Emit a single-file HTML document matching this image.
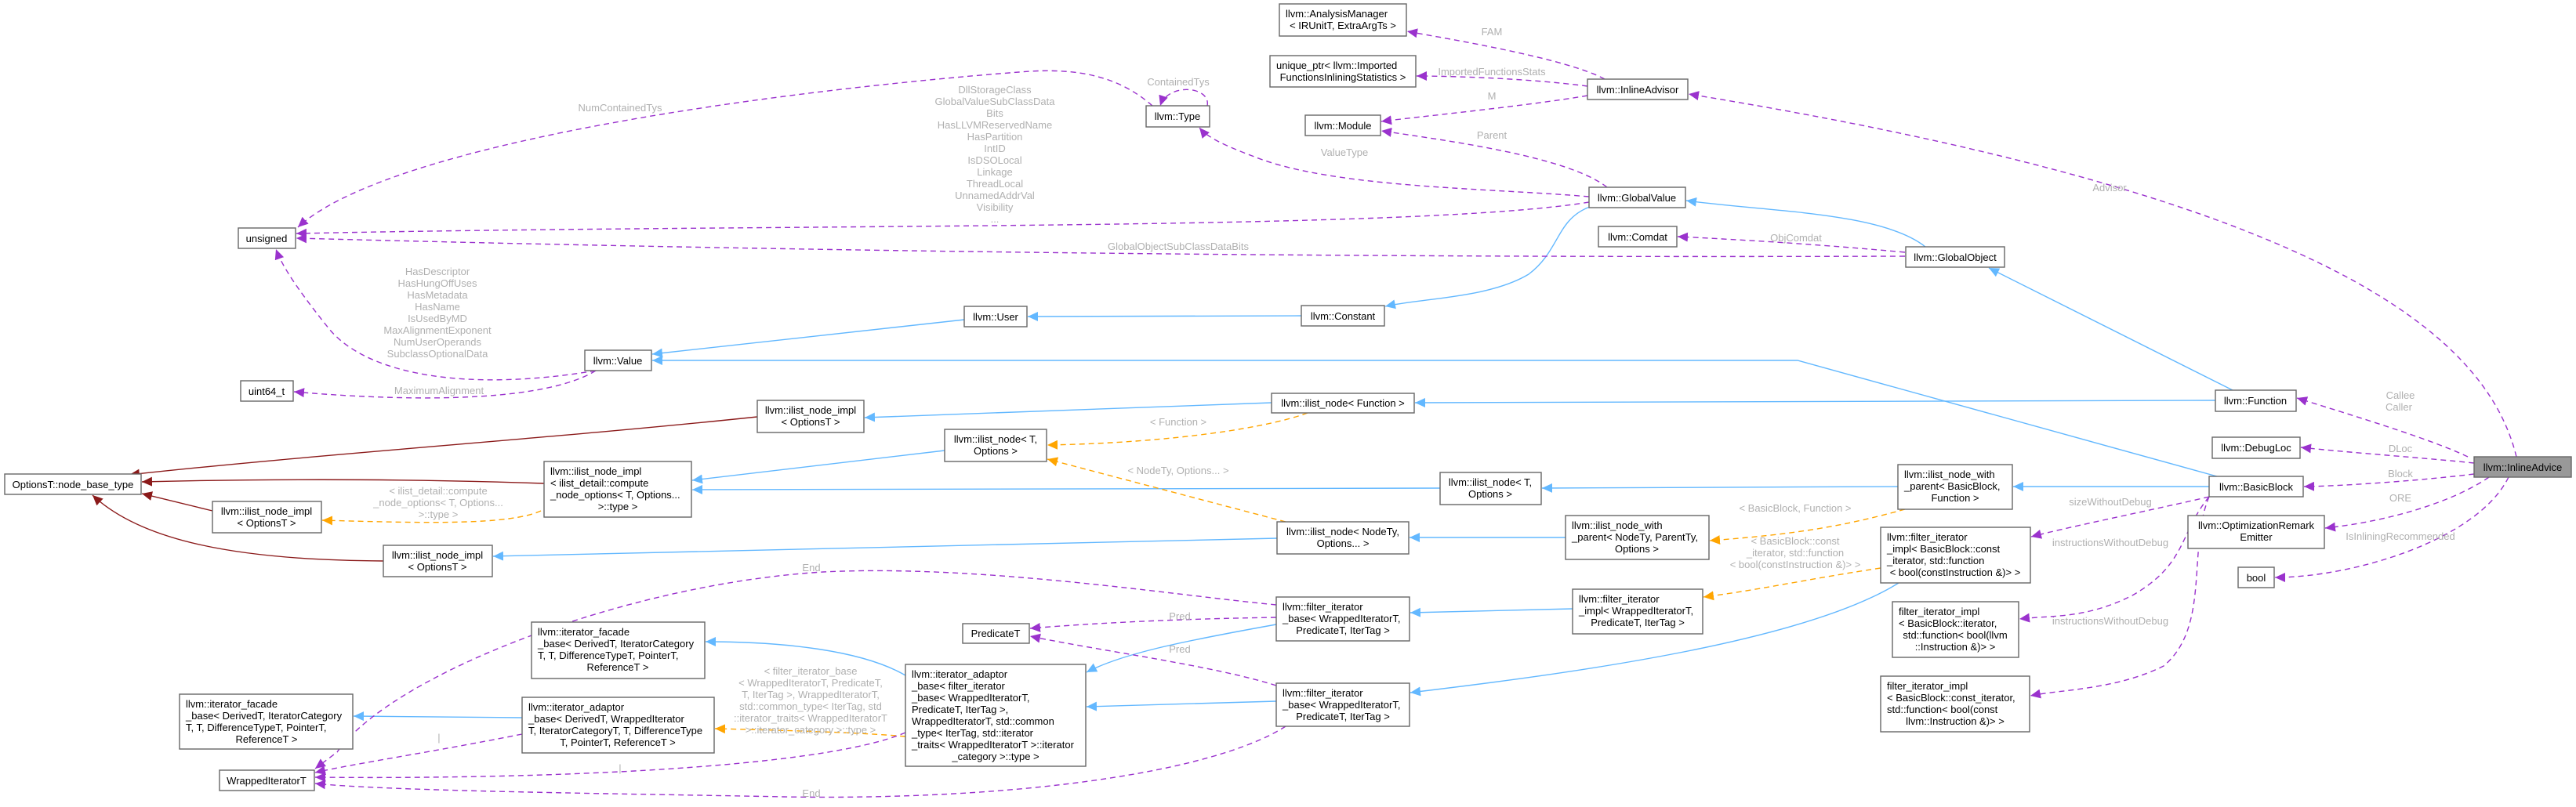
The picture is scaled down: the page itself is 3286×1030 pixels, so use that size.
<!DOCTYPE html>
<html><head><meta charset="utf-8"><style>
html,body{margin:0;padding:0;background:#fff;}
svg{display:block;}
text{font-family:"Liberation Sans",Arial,sans-serif;font-size:13px;}
.n rect{fill:#fff;stroke:#666;stroke-width:1.4;}
.n text{fill:#000;}
.l{fill:#b0b0b0;text-anchor:middle;}
.b{fill:none;stroke:#63b8ff;stroke-width:1.4;}
.r{fill:none;stroke:#8b1a1a;stroke-width:1.4;}
.o{fill:none;stroke:#ffa500;stroke-width:1.4;stroke-dasharray:7,5;}
.p{fill:none;stroke:#9a32cd;stroke-width:1.4;stroke-dasharray:7,5;}
</style></head><body>
<svg width="3286" height="1030" viewBox="0 0 3286 1030" xmlns="http://www.w3.org/2000/svg">
<defs>
<marker id="mb" markerUnits="userSpaceOnUse" markerWidth="14" markerHeight="12" refX="13" refY="6" orient="auto"><path d="M0,0 L13,6 L0,12 z" fill="#63b8ff"/></marker>
<marker id="mr" markerUnits="userSpaceOnUse" markerWidth="14" markerHeight="12" refX="13" refY="6" orient="auto"><path d="M0,0 L13,6 L0,12 z" fill="#8b1a1a"/></marker>
<marker id="mo" markerUnits="userSpaceOnUse" markerWidth="14" markerHeight="12" refX="13" refY="6" orient="auto"><path d="M0,0 L13,6 L0,12 z" fill="#ffa500"/></marker>
<marker id="mp" markerUnits="userSpaceOnUse" markerWidth="14" markerHeight="12" refX="13" refY="6" orient="auto"><path d="M0,0 L13,6 L0,12 z" fill="#9a32cd"/></marker>
</defs>

<!-- blue edges -->
<path class="b" marker-end="url(#mb)" d="M2826,511 L1805,514"/>
<path class="b" marker-end="url(#mb)" d="M2848,498 L2537,342"/>
<path class="b" marker-end="url(#mb)" d="M2456,315 C2400,270 2250,270 2151,256"/>
<path class="b" marker-end="url(#mb)" d="M2028,264 C1985,280 1990,320 1950,350 C1900,380 1820,380 1767,391"/>
<path class="b" marker-end="url(#mb)" d="M1660,403 L1311,404"/>
<path class="b" marker-end="url(#mb)" d="M1230,408 L832,452"/>
<path class="b" marker-end="url(#mb)" d="M2828,608 L2293,460 L832,460"/>
<path class="b" marker-end="url(#mb)" d="M1622,514 L1103,533"/>
<path class="b" marker-end="url(#mb)" d="M1205,575 L883,613"/>
<path class="b" marker-end="url(#mb)" d="M1837,623 L883,625"/>
<path class="b" marker-end="url(#mb)" d="M2421,621 L1967,623"/>
<path class="b" marker-end="url(#mb)" d="M2818,621 L2568,621"/>
<path class="b" marker-end="url(#mb)" d="M1997,686 L1798,686"/>
<path class="b" marker-end="url(#mb)" d="M1629,687 L629,710"/>
<path class="b" marker-end="url(#mb)" d="M2006,777 L1799,782"/>
<path class="b" marker-end="url(#mb)" d="M1628,797 C1500,820 1430,835 1386,858"/>
<path class="b" marker-end="url(#mb)" d="M2422,744 C2300,820 2000,860 1799,884"/>
<path class="b" marker-end="url(#mb)" d="M1628,895 L1386,902"/>
<path class="b" marker-end="url(#mb)" d="M1155,862 C1100,830 1000,819 900,819"/>
<path class="b" marker-end="url(#mb)" d="M666,916 L451,914"/>
<!-- dark red -->
<path class="r" marker-end="url(#mr)" d="M966,532 C700,560 400,580 165,606"/>
<path class="r" marker-end="url(#mr)" d="M694,617 C500,610 300,612 181,615"/>
<path class="r" marker-end="url(#mr)" d="M271,652 L181,630"/>
<path class="r" marker-end="url(#mr)" d="M489,716 C300,715 180,690 118,632"/>
<!-- orange -->
<path class="o" marker-end="url(#mo)" d="M1668,527 C1620,545 1500,565 1336,568"/>
<path class="o" marker-end="url(#mo)" d="M1640,666 L1336,586"/>
<path class="o" marker-end="url(#mo)" d="M690,652 C650,670 550,668 411,664"/>
<path class="o" marker-end="url(#mo)" d="M2430,650 C2350,672 2290,682 2181,690"/>
<path class="o" marker-end="url(#mo)" d="M2399,725 C2300,740 2250,752 2173,762"/>
<path class="o" marker-end="url(#mo)" d="M1155,940 C1100,935 1000,932 912,930"/>
<!-- purple -->
<path class="p" marker-end="url(#mp)" d="M3148,583 C3100,560 3000,530 2930,508"/>
<path class="p" marker-end="url(#mp)" d="M3156,591 C3100,585 3000,578 2935,571"/>
<path class="p" marker-end="url(#mp)" d="M3156,605 C3100,612 3000,620 2939,621"/>
<path class="p" marker-end="url(#mp)" d="M3175,609 C3130,640 3050,665 2966,674"/>
<path class="p" marker-end="url(#mp)" d="M3200,609 C3160,690 3000,737 2902,737"/>
<path class="p" marker-end="url(#mp)" d="M3210,583 C3170,420 2950,250 2154,120"/>
<path class="p" marker-end="url(#mp)" d="M2818,634 C2750,650 2650,670 2591,685"/>
<path class="p" marker-end="url(#mp)" d="M2818,634 C2780,680 2790,720 2720,760 C2660,790 2620,785 2576,790"/>
<path class="p" marker-end="url(#mp)" d="M2818,634 C2790,700 2820,800 2760,850 C2700,880 2630,880 2590,888"/>
<path class="p" marker-end="url(#mp)" d="M2047,101 C2000,75 1850,50 1795,40"/>
<path class="p" marker-end="url(#mp)" d="M2025,110 C1950,100 1850,97 1807,97"/>
<path class="p" marker-end="url(#mp)" d="M2025,122 C1950,135 1800,150 1762,155"/>
<path class="p" marker-end="url(#mp)" d="M2050,239 C2000,200 1850,180 1762,167"/>
<path class="p" marker-end="url(#mp)" d="M2027,251 C1900,240 1700,240 1600,200 C1560,185 1540,175 1530,163"/>
<path class="p" marker-end="url(#mp)" d="M2027,258 C1800,295 1000,285 378,298"/>
<path class="p" marker-end="url(#mp)" d="M2430,327 C1500,330 800,315 378,304"/>
<path class="p" marker-end="url(#mp)" d="M2430,322 C2300,310 2200,305 2140,302"/>
<path class="p" marker-end="url(#mp)" d="M1540,135 C1545,110 1490,105 1480,135"/>
<path class="p" marker-end="url(#mp)" d="M1470,135 C1430,100 1380,85 1300,92 C1000,115 500,180 380,290"/>
<path class="p" marker-end="url(#mp)" d="M760,473 C600,500 470,480 420,420 C380,370 360,340 352,318"/>
<path class="p" marker-end="url(#mp)" d="M760,473 C700,510 550,515 375,500"/>
<path class="p" marker-end="url(#mp)" d="M1628,772 C1500,760 1250,720 1050,730 C800,745 500,860 430,960 L402,981"/>
<path class="p" marker-end="url(#mp)" d="M1628,788 C1500,790 1400,795 1314,802"/>
<path class="p" marker-end="url(#mp)" d="M1628,875 C1550,850 1400,830 1314,812"/>
<path class="p" marker-end="url(#mp)" d="M1640,927 C1550,985 1300,1022 1000,1017 C800,1013 500,1010 402,1000"/>
<path class="p" marker-end="url(#mp)" d="M1155,935 C1050,980 700,995 402,992"/>
<path class="p" marker-end="url(#mp)" d="M666,937 C550,960 450,975 402,986"/>

<!-- labels -->
<text class="l" x="3062" y="509">Callee</text><text class="l" x="3060" y="524">Caller</text>
<text class="l" x="3062" y="577">DLoc</text>
<text class="l" x="3062" y="609">Block</text>
<text class="l" x="3062" y="640">ORE</text>
<text class="l" x="3062" y="689">IsInliningRecommended</text>
<text class="l" x="2692" y="645">sizeWithoutDebug</text>
<text class="l" x="2692" y="697">instructionsWithoutDebug</text>
<text class="l" x="2692" y="797">instructionsWithoutDebug</text>
<text class="l" x="2290" y="653">&lt; BasicBlock, Function &gt;</text>
<text class="l" x="2290" y="695">&lt; BasicBlock::const</text>
<text class="l" x="2290" y="710">_iterator, std::function</text>
<text class="l" x="2290" y="725">&lt; bool(constInstruction &amp;)&gt; &gt;</text>
<text class="l" x="2691" y="244">Advisor</text>
<text class="l" x="1903" y="45">FAM</text>
<text class="l" x="1903" y="96">ImportedFunctionsStats</text>
<text class="l" x="1903" y="127">M</text>
<text class="l" x="1903" y="177">Parent</text>
<text class="l" x="1715" y="199">ValueType</text>
<text class="l" x="1503" y="109">ContainedTys</text>
<text class="l" x="2291" y="308">ObjComdat</text>
<text class="l" x="1503" y="319">GlobalObjectSubClassDataBits</text>
<text class="l" x="791" y="142">NumContainedTys</text>
<text class="l" x="1269" y="119">DllStorageClass</text>
<text class="l" x="1269" y="134">GlobalValueSubClassData</text>
<text class="l" x="1269" y="149">Bits</text>
<text class="l" x="1269" y="164">HasLLVMReservedName</text>
<text class="l" x="1269" y="179">HasPartition</text>
<text class="l" x="1269" y="194">IntID</text>
<text class="l" x="1269" y="209">IsDSOLocal</text>
<text class="l" x="1269" y="224">Linkage</text>
<text class="l" x="1269" y="239">ThreadLocal</text>
<text class="l" x="1269" y="254">UnnamedAddrVal</text>
<text class="l" x="1269" y="269">Visibility</text>
<text class="l" x="1269" y="284">...</text>
<text class="l" x="558" y="351">HasDescriptor</text>
<text class="l" x="558" y="366">HasHungOffUses</text>
<text class="l" x="558" y="381">HasMetadata</text>
<text class="l" x="558" y="396">HasName</text>
<text class="l" x="558" y="411">IsUsedByMD</text>
<text class="l" x="558" y="426">MaxAlignmentExponent</text>
<text class="l" x="558" y="441">NumUserOperands</text>
<text class="l" x="558" y="456">SubclassOptionalData</text>
<text class="l" x="560" y="503">MaximumAlignment</text>
<text class="l" x="1503" y="543">&lt; Function &gt;</text>
<text class="l" x="1503" y="605">&lt; NodeTy, Options... &gt;</text>
<text class="l" x="559" y="631">&lt; ilist_detail::compute</text>
<text class="l" x="559" y="646">_node_options&lt; T, Options...</text>
<text class="l" x="559" y="661">&gt;::type &gt;</text>
<text class="l" x="1035" y="729">End</text>
<text class="l" x="1505" y="791">Pred</text>
<text class="l" x="1505" y="833">Pred</text>
<text class="l" x="1035" y="1017">End</text>
<text class="l" x="1034" y="861">&lt; filter_iterator_base</text>
<text class="l" x="1034" y="876">&lt; WrappedIteratorT, PredicateT,</text>
<text class="l" x="1034" y="891">T, IterTag &gt;, WrappedIteratorT,</text>
<text class="l" x="1034" y="906">std::common_type&lt; IterTag, std</text>
<text class="l" x="1034" y="921">::iterator_traits&lt; WrappedIteratorT</text>
<text class="l" x="1034" y="936">&gt;::iterator_category &gt;::type &gt;</text>
<text class="l" x="560" y="946">|</text>
<text class="l" x="791" y="985">|</text>

<!-- nodes -->
<g class="n">
<rect x="3156" y="583" width="124" height="26" style="fill:#999"/><text x="3218" y="601" text-anchor="middle">llvm::InlineAdvice</text>
<rect x="2826" y="498" width="103" height="27"/><text x="2877" y="516" text-anchor="middle">llvm::Function</text>
<rect x="2822" y="558" width="112" height="27"/><text x="2878" y="576" text-anchor="middle">llvm::DebugLoc</text>
<rect x="2818" y="608" width="120" height="26"/><text x="2878" y="626" text-anchor="middle">llvm::BasicBlock</text>
<rect x="2791" y="658" width="174" height="42"/><text x="2878" y="675" text-anchor="middle">llvm::OptimizationRemark</text><text x="2878" y="690" text-anchor="middle">Emitter</text>
<rect x="2855" y="724" width="46" height="26"/><text x="2878" y="742" text-anchor="middle">bool</text>
<rect x="2025" y="101" width="128" height="26"/><text x="2089" y="119" text-anchor="middle">llvm::InlineAdvisor</text>
<rect x="1632" y="5" width="162" height="41"/><text x="1640" y="22">llvm::AnalysisManager</text><text x="1713" y="37" text-anchor="middle">&lt; IRUnitT, ExtraArgTs &gt;</text>
<rect x="1620" y="71" width="186" height="40"/><text x="1628" y="88">unique_ptr&lt; llvm::Imported</text><text x="1713" y="103" text-anchor="middle">FunctionsInliningStatistics &gt;</text>
<rect x="1665" y="147" width="96" height="26"/><text x="1713" y="165" text-anchor="middle">llvm::Module</text>
<rect x="1462" y="135" width="81" height="27"/><text x="1502" y="153" text-anchor="middle">llvm::Type</text>
<rect x="2027" y="239" width="123" height="26"/><text x="2088" y="257" text-anchor="middle">llvm::GlobalValue</text>
<rect x="2039" y="289" width="100" height="26"/><text x="2089" y="307" text-anchor="middle">llvm::Comdat</text>
<rect x="2431" y="315" width="126" height="26"/><text x="2494" y="333" text-anchor="middle">llvm::GlobalObject</text>
<rect x="1660" y="390" width="106" height="26"/><text x="1713" y="408" text-anchor="middle">llvm::Constant</text>
<rect x="1230" y="391" width="80" height="26"/><text x="1270" y="409" text-anchor="middle">llvm::User</text>
<rect x="746" y="447" width="85" height="26"/><text x="788" y="465" text-anchor="middle">llvm::Value</text>
<rect x="304" y="291" width="73" height="26"/><text x="340" y="309" text-anchor="middle">unsigned</text>
<rect x="307" y="486" width="67" height="26"/><text x="340" y="504" text-anchor="middle">uint64_t</text>
<rect x="966" y="511" width="136" height="41"/><text x="1034" y="528" text-anchor="middle">llvm::ilist_node_impl</text><text x="1034" y="543" text-anchor="middle">&lt; OptionsT &gt;</text>
<rect x="6" y="605" width="174" height="26"/><text x="93" y="623" text-anchor="middle">OptionsT::node_base_type</text>
<rect x="694" y="589" width="188" height="71"/><text x="702" y="606">llvm::ilist_node_impl</text><text x="702" y="621">&lt; ilist_detail::compute</text><text x="702" y="636">_node_options&lt; T, Options...</text><text x="788" y="651" text-anchor="middle">&gt;::type &gt;</text>
<rect x="271" y="640" width="139" height="40"/><text x="340" y="657" text-anchor="middle">llvm::ilist_node_impl</text><text x="340" y="672" text-anchor="middle">&lt; OptionsT &gt;</text>
<rect x="489" y="696" width="139" height="40"/><text x="558" y="713" text-anchor="middle">llvm::ilist_node_impl</text><text x="558" y="728" text-anchor="middle">&lt; OptionsT &gt;</text>
<rect x="1622" y="502" width="182" height="25"/><text x="1713" y="519" text-anchor="middle">llvm::ilist_node&lt; Function &gt;</text>
<rect x="1205" y="548" width="130" height="41"/><text x="1270" y="565" text-anchor="middle">llvm::ilist_node&lt; T,</text><text x="1270" y="580" text-anchor="middle">Options &gt;</text>
<rect x="1837" y="603" width="129" height="41"/><text x="1901" y="620" text-anchor="middle">llvm::ilist_node&lt; T,</text><text x="1901" y="635" text-anchor="middle">Options &gt;</text>
<rect x="1629" y="666" width="168" height="41"/><text x="1713" y="683" text-anchor="middle">llvm::ilist_node&lt; NodeTy,</text><text x="1713" y="698" text-anchor="middle">Options... &gt;</text>
<rect x="1997" y="658" width="183" height="56"/><text x="2005" y="675">llvm::ilist_node_with</text><text x="2005" y="690">_parent&lt; NodeTy, ParentTy,</text><text x="2088" y="705" text-anchor="middle">Options &gt;</text>
<rect x="2421" y="593" width="146" height="57"/><text x="2429" y="610">llvm::ilist_node_with</text><text x="2429" y="625">_parent&lt; BasicBlock,</text><text x="2494" y="640" text-anchor="middle">Function &gt;</text>
<rect x="2399" y="673" width="191" height="71"/><text x="2407" y="690">llvm::filter_iterator</text><text x="2407" y="705">_impl&lt; BasicBlock::const</text><text x="2407" y="720">_iterator, std::function</text><text x="2494" y="735" text-anchor="middle">&lt; bool(constInstruction &amp;)&gt; &gt;</text>
<rect x="2414" y="768" width="161" height="71"/><text x="2422" y="785">filter_iterator_impl</text><text x="2422" y="800">&lt; BasicBlock::iterator,</text><text x="2494" y="815" text-anchor="middle">std::function&lt; bool(llvm</text><text x="2494" y="830" text-anchor="middle">::Instruction &amp;)&gt; &gt;</text>
<rect x="2399" y="863" width="190" height="71"/><text x="2407" y="880">filter_iterator_impl</text><text x="2407" y="895">&lt; BasicBlock::const_iterator,</text><text x="2407" y="910">std::function&lt; bool(const</text><text x="2494" y="925" text-anchor="middle">llvm::Instruction &amp;)&gt; &gt;</text>
<rect x="2006" y="752" width="166" height="57"/><text x="2014" y="769">llvm::filter_iterator</text><text x="2014" y="784">_impl&lt; WrappedIteratorT,</text><text x="2089" y="799" text-anchor="middle">PredicateT, IterTag &gt;</text>
<rect x="1628" y="762" width="170" height="56"/><text x="1636" y="779">llvm::filter_iterator</text><text x="1636" y="794">_base&lt; WrappedIteratorT,</text><text x="1713" y="809" text-anchor="middle">PredicateT, IterTag &gt;</text>
<rect x="1628" y="872" width="170" height="55"/><text x="1636" y="889">llvm::filter_iterator</text><text x="1636" y="904">_base&lt; WrappedIteratorT,</text><text x="1713" y="919" text-anchor="middle">PredicateT, IterTag &gt;</text>
<rect x="1228" y="796" width="85" height="25"/><text x="1270" y="813" text-anchor="middle">PredicateT</text>
<rect x="1155" y="848" width="230" height="130"/><text x="1163" y="865">llvm::iterator_adaptor</text><text x="1163" y="880">_base&lt; filter_iterator</text><text x="1163" y="895">_base&lt; WrappedIteratorT,</text><text x="1163" y="910"> PredicateT, IterTag &gt;,</text><text x="1163" y="925"> WrappedIteratorT, std::common</text><text x="1163" y="940">_type&lt; IterTag, std::iterator</text><text x="1163" y="955">_traits&lt; WrappedIteratorT &gt;::iterator</text><text x="1270" y="970" text-anchor="middle">_category &gt;::type &gt;</text>
<rect x="678" y="794" width="221" height="72"/><text x="686" y="811">llvm::iterator_facade</text><text x="686" y="826">_base&lt; DerivedT, IteratorCategory</text><text x="686" y="841">T, T, DifferenceTypeT, PointerT,</text><text x="788" y="856" text-anchor="middle">ReferenceT &gt;</text>
<rect x="229" y="886" width="221" height="70"/><text x="237" y="903">llvm::iterator_facade</text><text x="237" y="918">_base&lt; DerivedT, IteratorCategory</text><text x="237" y="933">T, T, DifferenceTypeT, PointerT,</text><text x="340" y="948" text-anchor="middle">ReferenceT &gt;</text>
<rect x="666" y="890" width="245" height="71"/><text x="674" y="907">llvm::iterator_adaptor</text><text x="674" y="922">_base&lt; DerivedT, WrappedIterator</text><text x="674" y="937">T, IteratorCategoryT, T, DifferenceType</text><text x="788" y="952" text-anchor="middle">T, PointerT, ReferenceT &gt;</text>
<rect x="280" y="983" width="121" height="26"/><text x="340" y="1001" text-anchor="middle">WrappedIteratorT</text>
</g>
</svg>
</body></html>
